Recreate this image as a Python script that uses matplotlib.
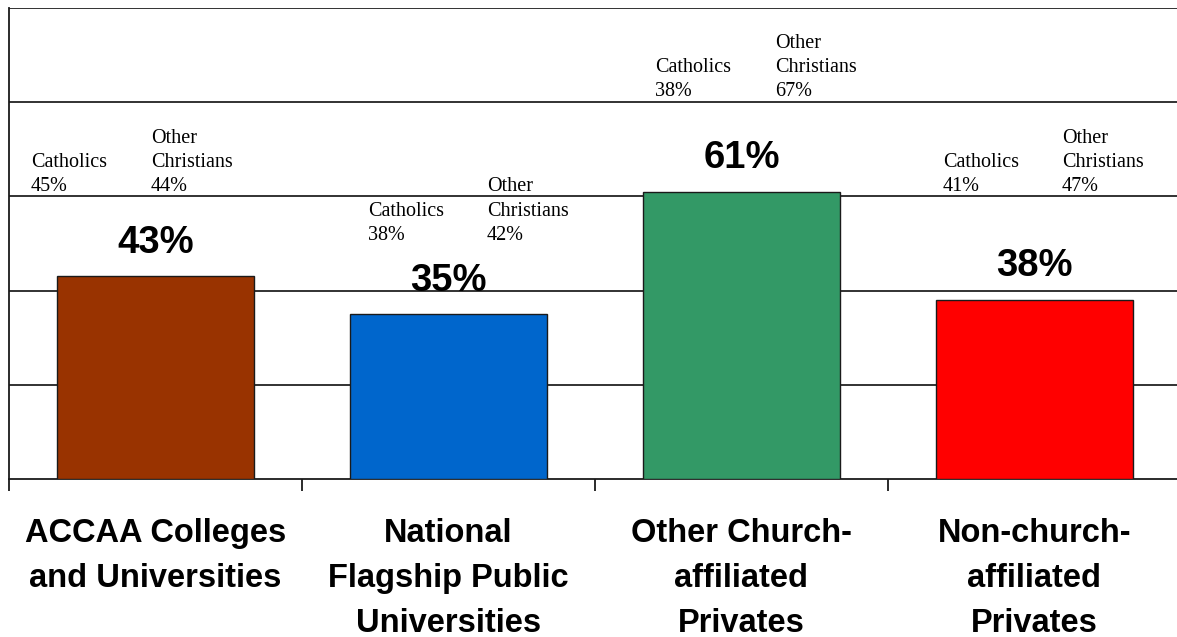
import matplotlib.pyplot as plt
import numpy as np

categories = [
    "ACCAA Colleges\nand Universities",
    "National\nFlagship Public\nUniversities",
    "Other Church-\naffiliated\nPrivates",
    "Non-church-\naffiliated\nPrivates",
]
overall = [43, 35, 61, 38]
catholics = [45, 38, 38, 41]
other_christians = [44, 42, 67, 47]
bar_colors = ["#993300", "#0066CC", "#339966", "#FF0000"]

# where each pair of sub-labels sits (x of left edge, y of bottom line)
note_x = [(-0.425, -0.015), (0.725, 1.131), (1.705, 2.114), (2.688, 3.094)]
note_y = [60.0, 49.7, 80.2, 60.0]

W, H = 1177, 637
fig = plt.figure(figsize=(W / 100, H / 100), dpi=100)
ax = fig.add_axes([9 / W, (H - 479) / H, 1172 / W, 471 / H])

x = np.arange(len(categories))
ax.set_xlim(-0.5, 3.5)
ax.set_ylim(0, 100)

ax.set_yticks([20, 40, 60, 80, 100])
ax.yaxis.grid(True, color="#222222", linewidth=1.3)
ax.set_axisbelow(True)
ax.tick_params(axis="y", length=0, labelleft=False)

bars = ax.bar(x, overall, width=0.67, color=bar_colors,
              edgecolor="#1a1a1a", linewidth=1.0, zorder=3)

for rect, v in zip(bars, overall):
    ax.annotate(f"{v}%", (rect.get_x() + rect.get_width() / 2, v),
                xytext=(0, 17), textcoords="offset points",
                ha="center", va="baseline", fontsize=27.5,
                fontweight="bold", family="Liberation Sans", zorder=4)

for i in range(len(categories)):
    ax.text(note_x[i][0], note_y[i], f"Catholics\n{catholics[i]}%",
            ha="left", va="bottom", fontsize=14.5, family="Liberation Serif",
            linespacing=1.38, zorder=4)
    ax.text(note_x[i][1], note_y[i], f"Other\nChristians\n{other_christians[i]}%",
            ha="left", va="bottom", fontsize=14.5, family="Liberation Serif",
            linespacing=1.38, zorder=4)

# boundary ticks between categories, names centred underneath
ax.set_xticks([-0.5, 0.5, 1.5, 2.5])
ax.set_xticklabels([])
ax.tick_params(axis="x", which="major", direction="out", length=8.5,
               width=1.3, color="#1a1a1a")
ax.set_xticks(x, minor=True)
ax.set_xticklabels(categories, minor=True, fontsize=23.5, fontweight="bold",
                   family="Liberation Sans", linespacing=1.6)
ax.tick_params(axis="x", which="minor", length=0, pad=27.8)

for side in ["top", "right"]:
    ax.spines[side].set_visible(False)
ax.spines["left"].set_color("#1a1a1a")
ax.spines["left"].set_linewidth(1.3)
ax.spines["bottom"].set_color("#1a1a1a")
ax.spines["bottom"].set_linewidth(1.3)

fig.savefig("out.png", dpi=100)
